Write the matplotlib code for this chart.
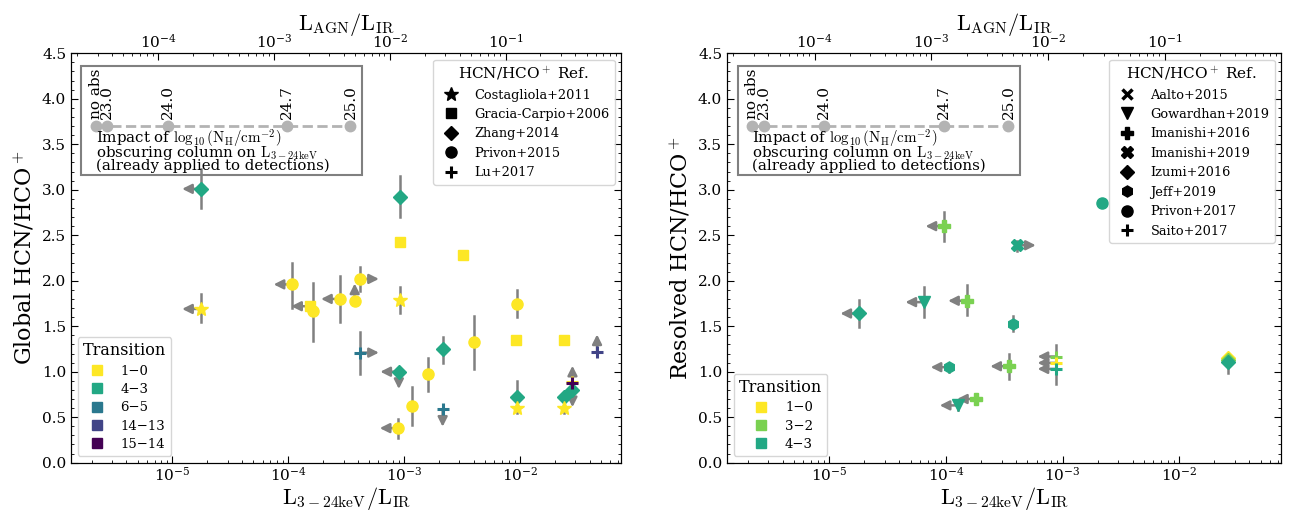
import numpy as np
import matplotlib
matplotlib.use('Agg')
import matplotlib.pyplot as plt
from matplotlib.lines import Line2D
from matplotlib.patches import Rectangle

plt.rcParams['font.family'] = 'serif'
plt.rcParams['font.serif'] = ['DejaVu Serif']
plt.rcParams['mathtext.fontset'] = 'cm'

# transition colours (viridis-like)
trans_colors = {'1-0': '#fde725', '3-2': '#7ad151', '4-3': '#22a884',
                '6-5': '#2a788e', '14-13': '#414487', '15-14': '#440154'}

# ---------------- global (left panel) ----------------
g_ref = ['Zhang+2014', 'Zhang+2014', 'Gracia-Carpio+2006', 'Gracia-Carpio+2006',
         'Privon+2015', 'Gracia-Carpio+2006', 'Privon+2015', 'Privon+2015',
         'Privon+2015', 'Privon+2015', 'Costagliola+2011', 'Privon+2015',
         'Costagliola+2011', 'Lu+2017', 'Zhang+2014', 'Privon+2015',
         'Privon+2015', 'Privon+2015', 'Zhang+2014', 'Lu+2017',
         'Privon+2015', 'Gracia-Carpio+2006', 'Gracia-Carpio+2006', 'Lu+2017',
         'Zhang+2014', 'Costagliola+2011', 'Zhang+2014', 'Zhang+2014',
         'Costagliola+2011', 'Lu+2017', 'Lu+2017']
g_trans = ['4-3', '4-3', '1-0', '1-0',
           '1-0', '1-0', '1-0', '1-0',
           '1-0', '1-0', '1-0', '1-0',
           '1-0', '6-5', '4-3', '1-0',
           '1-0', '1-0', '4-3', '6-5',
           '1-0', '1-0', '1-0', '14-13',
           '4-3', '1-0', '4-3', '4-3',
           '1-0', '1-0', '15-14']
g_x = [1.75e-5, 9.15e-4, 9.15e-4, 3.21e-3,
       1.08e-4, 1.53e-4, 1.64e-4, 2.77e-4,
       3.74e-4, 4.19e-4, 9.2e-4, 9.4e-3,
       1.75e-5, 4.19e-4, 9.0e-4, 1.60e-3,
       1.17e-3, 8.9e-4, 2.15e-3, 2.15e-3,
       4.0e-3, 9.3e-3, 2.4e-2, 4.63e-2,
       9.4e-3, 9.4e-3, 2.4e-2, 2.84e-2,
       2.4e-2, 2.84e-2, 2.84e-2]
g_y = [3.01, 2.92, 2.43, 2.28,
       1.96, 1.72, 1.67, 1.80,
       1.78, 2.02, 1.79, 1.74,
       1.69, 1.21, 1.00, 0.98,
       0.62, 0.38, 1.25, 0.585,
       1.33, 1.35, 1.35, 1.22,
       0.72, 0.60, 0.72, 0.80,
       0.60, 0.89, 0.876]
g_ylo = [2.80, 2.70, np.nan, np.nan,
         1.70, np.nan, 1.34, 1.55,
         np.nan, 1.89, 1.64, 1.60,
         1.55, 0.97, np.nan, 0.79,
         0.41, 0.27, 1.10, np.nan,
         1.03, np.nan, np.nan, np.nan,
         0.61, 0.55, np.nan, np.nan,
         0.55, np.nan, np.nan]
g_yhi = [3.23, 3.15, np.nan, np.nan,
         2.19, np.nan, 1.98, 2.05,
         np.nan, 2.15, 1.93, 1.90,
         1.85, 1.44, np.nan, 1.15,
         0.83, 0.48, 1.38, np.nan,
         1.61, np.nan, np.nan, np.nan,
         0.90, 0.66, np.nan, np.nan,
         0.66, np.nan, np.nan]
g_lim = ['l', '', '', '',
         'l', 'l', '', 'l',
         'u', 'r', '', '',
         'l', 'r', 'ld', '',
         '', 'l', '', 'd',
         '', '', '', 'u',
         '', '', '', 'd',
         '', '', 'u']

# ---------------- resolved (right panel) ----------------
r_ref = ['Privon+2017', 'Imanishi+2016', 'Imanishi+2019', 'Izumi+2016',
         'Gowardhan+2019', 'Imanishi+2016', 'Jeff+2019', 'Jeff+2019',
         'Imanishi+2016', 'Saito+2017', 'Saito+2017', 'Saito+2017',
         'Izumi+2016', 'Izumi+2016', 'Izumi+2016', 'Gowardhan+2019',
         'Imanishi+2016']
r_trans = ['4-3', '3-2', '4-3', '4-3',
           '4-3', '3-2', '4-3', '4-3',
           '3-2', '3-2', '1-0', '4-3',
           '1-0', '3-2', '4-3', '4-3',
           '3-2']
r_x = [2.19e-3, 9.67e-5, 4.08e-4, 1.80e-5,
       6.5e-5, 1.51e-4, 3.75e-4, 1.07e-4,
       3.47e-4, 8.83e-4, 8.83e-4, 8.83e-4,
       2.62e-2, 2.62e-2, 2.62e-2, 1.28e-4,
       1.80e-4]
r_y = [2.86, 2.60, 2.39, 1.64,
       1.765, 1.78, 1.53, 1.05,
       1.06, 1.167, 1.097, 1.031,
       1.15, 1.13, 1.11, 0.63,
       0.70]
r_ylo = [np.nan, 2.44, 2.33, 1.49,
         1.60, 1.62, 1.45, 1.00,
         0.92, np.nan, np.nan, 0.86,
         np.nan, np.nan, 0.99, 0.58,
         0.68]
r_yhi = [np.nan, 2.76, 2.44, 1.79,
         1.93, 1.95, 1.61, 1.10,
         1.20, np.nan, np.nan, 1.29,
         np.nan, np.nan, 1.20, 0.68,
         0.72]
r_lim = ['', 'l', 'r', 'l',
         'l', 'l', '', 'l',
         'l', 'l', 'l', 'l',
         '', '', '', 'l',
         'l']

# absorption inset: log10(NH) steps
nh_labels = ['no abs', '23.0', '24.0', '24.7', '25.0']
nh_x = [2.19e-6, 2.74e-6, 9.06e-6, 9.66e-5, 3.44e-4]
nh_y = 3.7
inset_lines = ['Impact of $\\log_{10}(\\mathrm{N_H/cm^{-2}})$',
               'obscuring column on $\\mathrm{L_{3-24keV}}$',
               '(already applied to detections)']
inset_line_y = [3.505, 3.36, 3.215]

# marker, size, edge width
g_styles = {'Costagliola+2011': ('*', 10.5, 1), 'Gracia-Carpio+2006': ('s', 7.5, 1),
            'Zhang+2014': ('D', 7.2, 1), 'Privon+2015': ('o', 8, 1), 'Lu+2017': ('+', 8, 2.2)}
r_styles = {'Aalto+2015': ('x', 7, 2.5), 'Gowardhan+2019': ('v', 8.5, 1),
            'Imanishi+2016': ('P', 9, 1), 'Imanishi+2019': ('X', 8.5, 1),
            'Izumi+2016': ('D', 7.5, 1), 'Jeff+2019': ('h', 8, 1),
            'Privon+2017': ('o', 8, 1), 'Saito+2017': ('+', 8, 2.2)}

XLIM = (1.33e-6, 0.0748)
TOPF = 13.3


def arrow(ax, x, y, d):
    if d == 'l':
        end = (x * 10 ** -0.16, y)
    elif d == 'r':
        end = (x * 10 ** 0.16, y)
    elif d == 'u':
        end = (x, y + 0.19)
    else:
        end = (x, y - 0.19)
    ax.annotate('', xy=end, xytext=(x, y),
                arrowprops=dict(arrowstyle='-|>', color='gray', lw=1.8,
                                mutation_scale=14, shrinkA=0, shrinkB=0),
                zorder=2)


def draw(ax, refs, trans, xs, ys, ylo, yhi, lims, styles):
    for r, t, x, y, lo, hi, lim in zip(refs, trans, xs, ys, ylo, yhi, lims):
        if not np.isnan(lo):
            ax.plot([x, x], [lo, hi], color='gray', lw=1.8, zorder=2)
        for d in lim:
            arrow(ax, x, y, d)
        m, ms, mew = styles[r]
        ax.plot(x, y, marker=m, ms=ms, mew=mew, color=trans_colors[t],
                ls='none', zorder=3)


def setup(ax, ylabel):
    ax.set_xscale('log')
    ax.set_xlim(*XLIM)
    ax.set_ylim(0, 4.5)
    ax.set_yticks(np.arange(0, 4.51, 0.5))
    ax.set_yticks(np.arange(0, 4.51, 0.1), minor=True)
    ax.tick_params(which='both', direction='in', right=True, labelsize=11)
    ax.tick_params(which='major', length=5)
    ax.tick_params(which='minor', length=2.5)
    ax.tick_params(axis='x', pad=2)
    ax.set_xlabel(r'$\mathrm{L_{3-24keV}/L_{IR}}$', fontsize=16, labelpad=1)
    ax.set_ylabel(ylabel, fontsize=16)
    ax.xaxis.set_ticks([1e-5, 1e-4, 1e-3, 1e-2])
    top = ax.twiny()
    top.set_xscale('log')
    top.set_xlim(XLIM[0] * TOPF, XLIM[1] * TOPF)
    top.tick_params(which='both', direction='in', labelsize=11, pad=2)
    top.tick_params(which='major', length=5)
    top.tick_params(which='minor', length=2.5)
    top.set_xlabel(r'$\mathrm{L_{AGN}/L_{IR}}$', fontsize=16, labelpad=2)

    # absorption inset
    ax.add_patch(Rectangle((0.019, 0.702), 0.51, 0.267, transform=ax.transAxes,
                           fill=False, edgecolor='gray', lw=1.5, zorder=1))
    ax.plot(nh_x, [nh_y] * len(nh_x), ls='--', color='#b3b3b3', lw=2, zorder=1)
    ax.plot(nh_x, [nh_y] * len(nh_x), 'o', color='#b3b3b3', ms=7.5, zorder=1)
    for lab, x in zip(nh_labels, nh_x):
        ax.text(x, nh_y + 0.075, lab, rotation=90, ha='center', va='bottom', fontsize=11)
    for line, ly in zip(inset_lines, inset_line_y):
        ax.text(0.045, ly, line, transform=ax.get_yaxis_transform(),
                ha='left', va='baseline', fontsize=10.8)


fig = plt.figure(figsize=(12.96, 5.12), dpi=100)
ax1 = fig.add_axes([0.0548, 0.0963, 0.4245, 0.7996])
ax2 = fig.add_axes([0.561, 0.0963, 0.4275, 0.7996])

setup(ax1, r'Global HCN/HCO$^+$')
setup(ax2, r'Resolved HCN/HCO$^+$')

draw(ax1, g_ref, g_trans, g_x, g_y, g_ylo, g_yhi, g_lim, g_styles)
draw(ax2, r_ref, r_trans, r_x, r_y, r_ylo, r_yhi, r_lim, r_styles)

for ax, styles, tlist in [(ax1, g_styles, ['1-0', '4-3', '6-5', '14-13', '15-14']),
                          (ax2, r_styles, ['1-0', '3-2', '4-3'])]:
    h_ref = [Line2D([], [], marker=m, ms=ms, mew=mew, color='k', ls='none', label=k)
             for k, (m, ms, mew) in styles.items()]
    leg1 = ax.legend(handles=h_ref, loc='upper right', title=r'HCN/HCO$^+$ Ref.',
                     fontsize=9.3, title_fontsize=11)
    ax.add_artist(leg1)
    h_tr = [Line2D([], [], marker='s', ms=7.5, color=trans_colors[t], ls='none',
                   label=t.replace('-', '\u2212')) for t in tlist]
    ax.legend(handles=h_tr, loc='lower left', title='Transition',
              fontsize=9.5, title_fontsize=11.5, labelspacing=0.4)

fig.savefig('out.png', dpi=100)
